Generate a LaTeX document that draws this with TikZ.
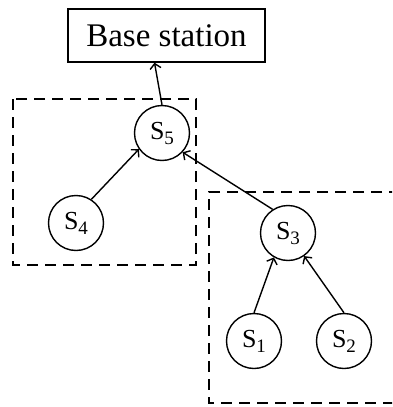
\documentclass[tikz,border=0pt]{standalone}
\usepackage{fontspec}
\setmainfont{Liberation Serif}
\usetikzlibrary{arrows.meta,calc}

% sensor label: roman S with a lowered roman index
\newcommand\sensor[1]{S\kern-0.3pt\raisebox{-5pt}{\fontsize{19pt}{19pt}\selectfont #1}}

\tikzset{
  sensornode/.style={draw, line width=1.4pt, circle, minimum size=55pt, inner sep=0pt,
                     font=\fontsize{26pt}{26pt}\selectfont},
  stationbox/.style={draw, line width=1.4pt, minimum width=197pt, minimum height=53pt,
                     inner sep=0pt, font=\fontsize{33pt}{33pt}\selectfont},
  clusterbox/.style={line width=1.4pt, dash pattern=on 11pt off 7pt},
  link/.style={line width=1.4pt, -{Straight Barb[length=5pt,width=11pt,line width=1.4pt]}}
}

\begin{document}
\begin{tikzpicture}[x=1pt, y=-1pt]
  \useasboundingbox (0,0) rectangle (392,407);
  \clip (0,0) rectangle (392,407);

  % base station
  \node[stationbox] (base) at (166.5,35.5) {Base station};

  % sensor nodes
  \node[sensornode] (s5) at (162,133) {\sensor{5}};
  \node[sensornode] (s4) at (76,223) {\sensor{4}};
  \node[sensornode] (s3) at (288,233) {\sensor{3}};
  \node[sensornode] (s1) at (254,341) {\sensor{1}};
  \node[sensornode] (s2) at (344,341) {\sensor{2}};

  % clusters
  \draw[clusterbox] (13,99) rectangle (196,265);
  \draw[clusterbox] (400,192) -- (209,192) -- (209,403) -- (400,403);

  % data links towards the base station
  \draw[link] (s5.north) -- ($(base.south)+(-12,0)$);
  \draw[link] (s4.57) -- (s5.215);
  \draw[link] (s3.123) -- (s5.317);
  \draw[link] (s1.north) -- (s3.240);
  \draw[link] (s2.north) -- (s3.305);
\end{tikzpicture}
\end{document}
